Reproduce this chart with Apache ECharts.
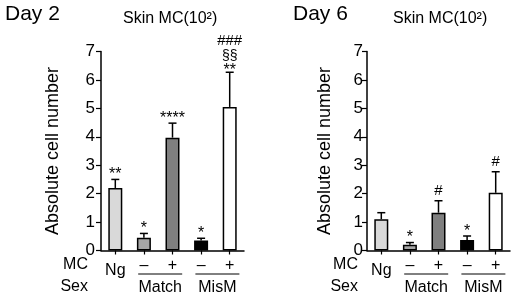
<!DOCTYPE html>
<html><head><meta charset="utf-8">
<script src="https://cdn.jsdelivr.net/npm/echarts@6/dist/echarts.min.js"></script>
<style>html,body{margin:0;padding:0;background:#fff}#c{width:517px;height:298px}</style>
</head><body><div id="c"></div>
<script>
// ---- data ----
const categories = ['Ng', '–', '+', '–', '+'];
const groupNames = ['Match', 'MisM'];
const groupMembers = [[1, 2], [3, 4]];
const panelTitles = ['Day 2', 'Day 6'];
const subTitle = 'Skin MC(10²)';
const yAxisName = 'Absolute cell number';
const yMin = 0, yMax = 7, yInterval = 1;
const day2Means  = [2.2, 0.45, 3.97, 0.35, 5.05];
const day2Errors = [0.3, 0.15, 0.51, 0.08, 1.22];
const day2Marks  = ['**', '*', '****', '*', '###\n§§\n**'];
const day6Means  = [1.1, 0.2, 1.33, 0.37, 2.03];
const day6Errors = [0.23, 0.08, 0.42, 0.14, 0.74];
const day6Marks  = ['', '*', '#', '*', '#'];
const barColors = ['#d9d9d9', '#a6a6a6', '#7f7f7f', '#000000', '#ffffff'];

// ---- layout ----
const FONT = '"Liberation Sans", Arial, Helvetica, sans-serif';
const grids = [
  { left: 101, top: 51.5, width: 143, height: 199 },
  { left: 367, top: 51.5, width: 143, height: 199 }
];
const nameGaps = [39, 33];
const labelMargins = [6, 4];

const chart = echarts.init(document.getElementById('c'), null, { renderer: 'canvas' });

function xAxisFor(i) {
  return {
    type: 'category', gridIndex: i, data: categories,
    axisLine: { lineStyle: { color: '#000', width: 1.5 } },
    axisTick: { show: true, alignWithLabel: true, length: 4, lineStyle: { color: '#000', width: 1.2 } },
    axisLabel: {
      color: '#000', fontFamily: FONT, fontSize: 16, margin: 7, interval: 0,
      formatter: (v, idx) => idx === 0 ? '{ng|' + v + '}' : v,
      rich: { ng: { color: '#000', fontFamily: FONT, fontSize: 16, padding: [5, 0, 0, 0] } }
    },
    splitLine: { show: false }
  };
}
function yAxisFor(i) {
  return {
    type: 'value', gridIndex: i, min: yMin, max: yMax, interval: yInterval,
    name: yAxisName, nameLocation: 'middle', nameGap: nameGaps[i],
    nameTextStyle: { color: '#000', fontFamily: FONT, fontSize: 18 },
    axisLine: { show: true, lineStyle: { color: '#000', width: 1.5 } },
    axisTick: { show: true, length: 5, lineStyle: { color: '#000', width: 1.2 } },
    axisLabel: { color: '#000', fontFamily: FONT, fontSize: 17, margin: labelMargins[i] },
    splitLine: { show: false }
  };
}
function barSeries(i, means) {
  return {
    type: 'bar', xAxisIndex: i, yAxisIndex: i, barWidth: 14, silent: true,
    data: means.map((v, k) => ({ value: v, itemStyle: { color: barColors[k], borderColor: '#000', borderWidth: 1.5 } })),
    z: 2
  };
}
function glyphSize(line) { return line[0] === '*' ? 16 : (line[0] === '#' ? 15 : 14); }
function glyphShift(line, fs) { return line[0] === '*' ? 0.3 * fs : 0; }
function errSeries(i, means, errs, marks) {
  return {
    type: 'custom', xAxisIndex: i, yAxisIndex: i, silent: true, z: 3,
    data: means.map((m, k) => [k, m, errs[k]]),
    encode: { x: 0, y: 1 },
    renderItem: function (params, api) {
      const x = api.value(0), m = api.value(1), e = api.value(2);
      const p0 = api.coord([x, m]);
      const p1 = api.coord([x, m + e]);
      const mk = marks[params.dataIndex];
      const children = [
        { type: 'line', shape: { x1: p0[0], y1: p0[1], x2: p1[0], y2: p1[1] }, style: { stroke: '#000', lineWidth: 1.5 } },
        { type: 'line', shape: { x1: p1[0] - 4, y1: p1[1], x2: p1[0] + 4, y2: p1[1] }, style: { stroke: '#000', lineWidth: 1.5 } }
      ];
      if (mk) {
        const lines = mk.split('\n').reverse();
        let c = p1[1] - (lines.length > 1 ? 6.5 : 9.5);
        lines.forEach((ln, li) => {
          const fs = glyphSize(ln);
          if (li > 0) c -= (li === 1 ? 10 : 15);
          children.push({
            type: 'text',
            style: { text: ln, x: p1[0], y: c + glyphShift(ln, fs), align: 'center', verticalAlign: 'middle',
                     font: fs + 'px ' + FONT, fill: '#000' }
          });
        });
      }
      return { type: 'group', children: children };
    }
  };
}

chart.setOption({
  animation: false,
  backgroundColor: '#fff',
  grid: grids,
  xAxis: [xAxisFor(0), xAxisFor(1)],
  yAxis: [yAxisFor(0), yAxisFor(1)],
  series: [
    barSeries(0, day2Means), errSeries(0, day2Means, day2Errors, day2Marks),
    barSeries(1, day6Means), errSeries(1, day6Means, day6Errors, day6Marks)
  ]
});

// ---- decorations (titles, row labels, group brackets) ----
const graphics = [];
const titleX = [5, 293], subX = [123, 393], rowLabelRight = [88, 358];
for (let i = 0; i < 2; i++) {
  graphics.push({ type: 'text', left: titleX[i], top: 4, style: { text: panelTitles[i], font: '21px ' + FONT, fill: '#000' } });
  graphics.push({ type: 'text', left: subX[i], top: 11, style: { text: subTitle, font: '16px ' + FONT, fill: '#000' } });
  graphics.push({ type: 'text', x: rowLabelRight[i], y: 265, style: { text: 'MC', font: '16px ' + FONT, fill: '#000', align: 'right', verticalAlign: 'middle' } });
  graphics.push({ type: 'text', x: rowLabelRight[i], y: 287, style: { text: 'Sex', font: '16px ' + FONT, fill: '#000', align: 'right', verticalAlign: 'middle' } });
  const baseY = chart.convertToPixel({ yAxisIndex: i }, 0);
  groupMembers.forEach((mem, g) => {
    const a = chart.convertToPixel({ xAxisIndex: i }, mem[0]);
    const b = chart.convertToPixel({ xAxisIndex: i }, mem[1]);
    const mid = (a + b) / 2 + 2;
    graphics.push({ type: 'line', shape: { x1: mid - 22, y1: baseY + 23.5, x2: mid + 22, y2: baseY + 23.5 }, style: { stroke: '#000', lineWidth: 1 } });
    graphics.push({ type: 'text', x: mid, y: baseY + 37, style: { text: groupNames[g], font: '16px ' + FONT, fill: '#000', align: 'center', verticalAlign: 'middle' } });
  });
}
chart.setOption({ graphic: graphics });
</script>
</body></html>
